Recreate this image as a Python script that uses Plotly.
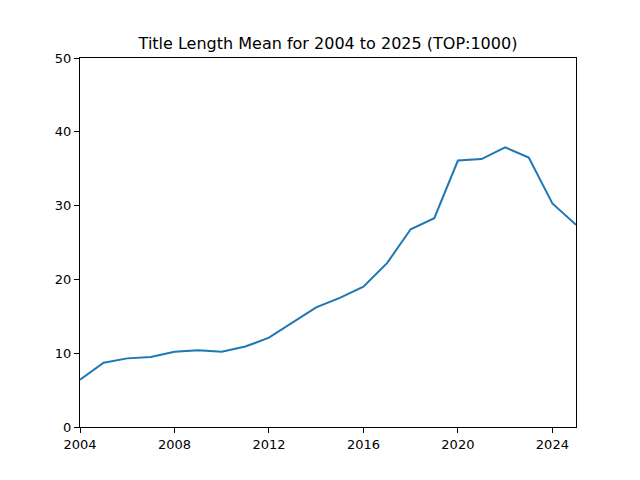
import plotly.graph_objects as go

years = list(range(2004, 2026))
title_len_mean = [6.4, 8.7, 9.3, 9.5, 10.2, 10.4, 10.2, 10.9, 12.1, 14.1, 16.2, 17.5,
                  19.0, 22.2, 26.8, 28.3, 36.1, 36.3, 37.9, 36.5, 30.3, 27.4]

fig = go.Figure()
fig.add_trace(go.Scatter(x=years, y=title_len_mean, mode='lines',
                         line=dict(color='#1f77b4', width=2)))

axis_style = dict(showgrid=False, zeroline=False, showline=True, linecolor='black',
                  linewidth=1, mirror=True, ticks='outside', ticklen=5,
                  tickcolor='black', tickfont=dict(size=13, color='black'))

# page body adds an 8px offset, so margins are shifted to compensate
fig.update_layout(
    width=640, height=480,
    margin=dict(l=72, r=72, t=50, b=61),
    paper_bgcolor='white', plot_bgcolor='white',
    font=dict(family='DejaVu Sans', color='black'),
    title=dict(text='Title Length Mean for 2004 to 2025 (TOP:1000)',
               x=0.5, xanchor='center', y=0.927, yanchor='middle',
               font=dict(size=16)),
    showlegend=False,
    xaxis=dict(range=[2004, 2025], tickvals=[2004, 2008, 2012, 2016, 2020, 2024], **axis_style),
    yaxis=dict(range=[0, 50], tickvals=[0, 10, 20, 30, 40, 50], **axis_style),
)

fig.write_html("out.html")
